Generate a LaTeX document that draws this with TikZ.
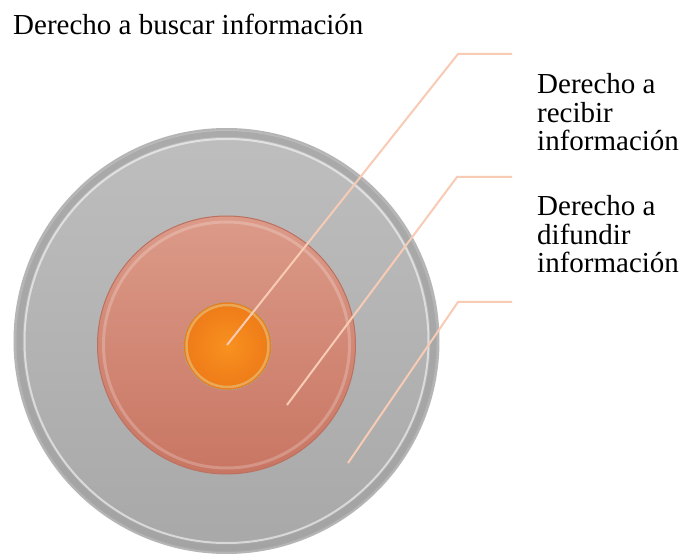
\documentclass[tikz,border=0pt]{standalone}
\usepackage{fontspec}
\setmainfont{Liberation Serif}
\begin{document}
\begin{tikzpicture}[x=1pt,y=-1pt,
  lbl/.style={inner sep=0pt,anchor=base west,align=left,font=\fontsize{29}{28.5}\selectfont},
  lead/.style={draw=leadcol,line width=2pt},
  disk/.style={circle,inner sep=0pt,minimum size=#1}]
\definecolor{leadcol}{HTML}{F8CBB4}
\definecolor{grayT}{HTML}{BEBEBE}
\definecolor{grayB}{HTML}{A8A8A8}
\definecolor{grayEdge}{HTML}{A2A2A2}
\definecolor{salT}{HTML}{DC9A88}
\definecolor{salB}{HTML}{C87663}
\definecolor{salEdge}{HTML}{BC7060}
\definecolor{orIn}{HTML}{F8911F}
\definecolor{orOut}{HTML}{EE7A18}
\definecolor{orRing}{HTML}{E8B466}
\useasboundingbox[fill=white] (0,0) rectangle (681,556);
% outer disk
\node[disk=424pt,top color=grayT,bottom color=grayB,draw=grayEdge!80,line width=2pt] (outer) at (226.5,341) {};
\draw[grayEdge,opacity=0.7,line width=6pt] (outer.center) circle[radius=207pt];
\draw[white,opacity=0.55,line width=2pt] (outer.center) circle[radius=202pt];
% middle disk
\node[disk=258pt,top color=salT,bottom color=salB,draw=salEdge,line width=1pt] (middle) at (226.5,345) {};
\draw[white,opacity=0.22,line width=3pt] (middle.center) circle[radius=123pt];
% inner disk
\node[disk=88pt,inner color=orIn,outer color=orOut,draw=gray!70,densely dotted,line width=1pt] (inner) at (227.5,346) {};
\draw[orRing,opacity=0.8,line width=2.5pt] (inner.center) circle[radius=41pt];
% leader lines
\coordinate (p1) at (227,345);
\coordinate (k1) at (458,54);
\coordinate (e1) at (512,54);
\coordinate (p2) at (287,405);
\coordinate (k2) at (457,177);
\coordinate (e2) at (512,177);
\coordinate (p3) at (348,463);
\coordinate (k3) at (458,302);
\coordinate (e3) at (512,302);
\draw[lead] (p1) -- (k1) -- (e1);
\draw[lead] (p2) -- (k2) -- (e2);
\draw[lead] (p3) -- (k3) -- (e3);
% labels
\node[inner sep=0pt,anchor=base west,font=\fontsize{29}{30}\selectfont] (t0) at (13,35) {Derecho a buscar información};
\node[lbl] (t1) at (537,151) {Derecho a\\recibir\\información};
\node[lbl] (t2) at (537,273) {Derecho a\\difundir\\información};
\end{tikzpicture}
\end{document}
